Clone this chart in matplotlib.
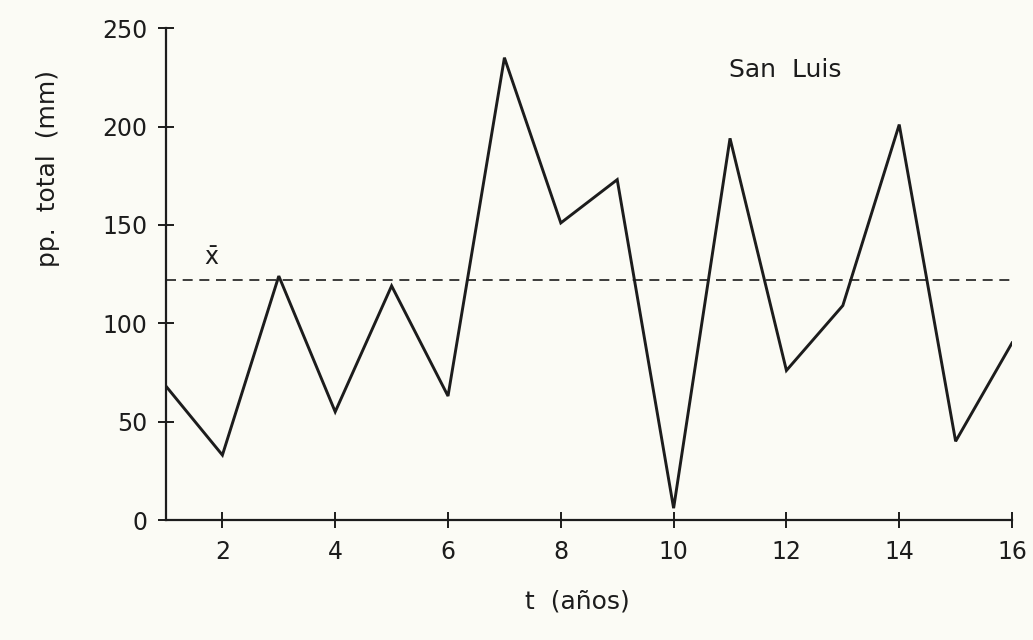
import matplotlib
matplotlib.use('Agg')
import matplotlib.pyplot as plt

# ── DATA ─────────────────────────────────────────────
anos   = list(range(1, 17))
pp     = [68, 33, 124, 55, 119, 63, 235, 151, 173, 6, 194, 76, 109, 201, 40, 90]
media  = 122
xticks = [2, 4, 6, 8, 10, 12, 14, 16]
yticks = [0, 50, 100, 150, 200, 250]

BG  = "#fbfbf5"
INK = "#1c1c1c"

plt.rcParams.update({'font.family': 'DejaVu Sans', 'font.size': 17})

fig = plt.figure(figsize=(10.33, 6.4), dpi=100, facecolor=BG)
ax = fig.add_axes([0.1607, 0.1875, 0.819, 0.7685])
ax.set_facecolor(BG)

ax.plot(anos, pp, color=INK, lw=2.1, solid_joinstyle='miter')
ax.plot([anos[0], anos[-1]], [media, media], color=INK, lw=1.2,
        ls=(0, (6, 4)))
ax.text(1.8, media + 5, r"$\bar{\mathrm{x}}$", fontsize=17, color=INK,
        ha='center', va='bottom')

ax.set_xlim(1, 16)
ax.set_ylim(0, 250)
ax.set_xticks(xticks)
ax.set_yticks(yticks)
ax.tick_params(direction='inout', length=11, width=1.4, colors=INK,
               labelsize=17, pad=9)
ax.tick_params(axis='y', pad=8)

for s in ['top', 'right']:
    ax.spines[s].set_visible(False)
for s in ['left', 'bottom']:
    ax.spines[s].set_color(INK)
    ax.spines[s].set_linewidth(1.6)

ax.text(0.665, 0.915, "San  Luis", transform=ax.transAxes, fontsize=18,
        color=INK, ha='left', va='center')

fig.text(0.559, 0.06, "t  (años)", fontsize=18, color=INK, ha='center',
         va='center')
fig.text(0.046, 0.737, "pp.  total  (mm)", fontsize=18, color=INK,
         rotation=90, ha='center', va='center')

plt.savefig('out.png', dpi=100, facecolor=BG)
